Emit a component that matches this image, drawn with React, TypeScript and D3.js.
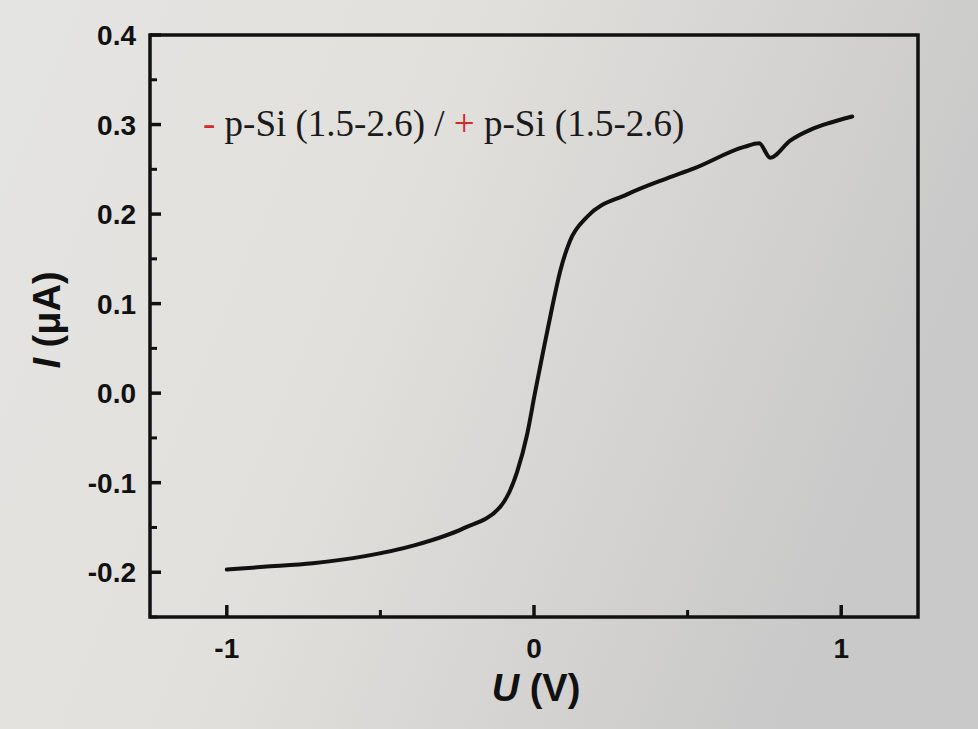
import React from "react";
import * as d3 from "d3";

const voltage = [-1.0, -0.88, -0.72, -0.55, -0.39, -0.23, -0.11, -0.055, -0.023, 0.003, 0.03, 0.058, 0.085, 0.117, 0.173, 0.303, 0.433, 0.521, 0.684, 0.733, 0.769, 0.834, 0.899, 0.964, 1.036];
const current = [-0.197, -0.194, -0.19, -0.182, -0.17, -0.151, -0.127, -0.088, -0.047, 0.0, 0.047, 0.094, 0.136, 0.17, 0.197, 0.222, 0.24, 0.251, 0.275, 0.279, 0.263, 0.282, 0.294, 0.302, 0.309];

const yMajorTicks = [-0.2, -0.1, 0.0, 0.1, 0.2, 0.3, 0.4];
const yMinorTicks = [-0.25, -0.15, -0.05, 0.05, 0.15, 0.25, 0.35];
const xMajorTicks = [-1, 0, 1];
const xMinorTicks = [-0.5, 0.5];

const W = 978;
const H = 729;
const M = { left: 150, right: 60, top: 35, bottom: 112 };

export default function App() {
  const x = d3.scaleLinear().domain([-1.25, 1.25]).range([M.left, W - M.right]);
  const y = d3.scaleLinear().domain([-0.25, 0.4]).range([H - M.bottom, M.top]);
  const pts = voltage.map((v, i) => [v, current[i]] as [number, number]);
  const line = d3
    .line<[number, number]>()
    .x((d) => x(d[0]))
    .y((d) => y(d[1]))
    .curve(d3.curveMonotoneX);

  const x0 = M.left;
  const x1 = W - M.right;
  const y0 = H - M.bottom;
  const y1 = M.top;
  const tickFont = "'Liberation Sans', Arial, sans-serif";

  return (
    <svg
      width={W}
      height={H}
      style={{ position: "absolute", left: 0, top: 0, display: "block" }}
    >
      <defs>
        <linearGradient id="bg" x1="0" y1="0" x2="1" y2="0.3">
          <stop offset="0" stopColor="#e4e4e2" />
          <stop offset="0.45" stopColor="#e2e0dc" />
          <stop offset="1" stopColor="#c9c9c9" />
        </linearGradient>
      </defs>
      <rect x={0} y={0} width={W} height={H} fill="url(#bg)" />

      {/* frame */}
      <rect
        x={x0}
        y={y1}
        width={x1 - x0}
        height={y0 - y1}
        fill="none"
        stroke="#111"
        strokeWidth={3.5}
      />

      {/* y ticks */}
      {yMajorTicks.map((t) => (
        <g key={"ym" + t}>
          <line x1={x0} x2={x0 + 11} y1={y(t)} y2={y(t)} stroke="#111" strokeWidth={3.5} />
          <text
            x={x0 - 14}
            y={y(t)}
            dy="0.36em"
            textAnchor="end"
            fontFamily={tickFont}
            fontWeight="bold"
            fontSize={28}
            fill="#111"
          >
            {t.toFixed(1)}
          </text>
        </g>
      ))}
      {yMinorTicks.map((t) => (
        <line key={"yn" + t} x1={x0} x2={x0 + 7} y1={y(t)} y2={y(t)} stroke="#111" strokeWidth={3} />
      ))}

      {/* x ticks */}
      {xMajorTicks.map((t) => (
        <g key={"xm" + t}>
          <line x1={x(t)} x2={x(t)} y1={y0} y2={y0 - 12} stroke="#111" strokeWidth={3.5} />
          <text
            x={x(t)}
            y={y0 + 41}
            textAnchor="middle"
            fontFamily={tickFont}
            fontWeight="bold"
            fontSize={28}
            fill="#111"
          >
            {t}
          </text>
        </g>
      ))}
      {xMinorTicks.map((t) => (
        <line key={"xn" + t} x1={x(t)} x2={x(t)} y1={y0} y2={y0 - 7} stroke="#111" strokeWidth={3} />
      ))}

      {/* axis titles */}
      <text
        x={(x0 + x1) / 2 + 2}
        y={H - 28}
        textAnchor="middle"
        fontFamily={tickFont}
        fontWeight="bold"
        fontSize={38}
        fill="#111"
      >
        <tspan fontStyle="italic">U</tspan> (V)
      </text>
      <text
        transform={`translate(60, 320) rotate(-90)`}
        textAnchor="middle"
        fontFamily={tickFont}
        fontWeight="bold"
        fontSize={38}
        fill="#111"
      >
        <tspan fontStyle="italic">I</tspan> (μA)
      </text>

      {/* annotation */}
      <text
        x={203}
        y={136}
        fontFamily="'Liberation Serif', 'Times New Roman', serif"
        fontSize={37}
        fill="#1a1a1a"
      >
        <tspan fill="#d42a2a">-</tspan> p-Si (1.5-2.6) / <tspan fill="#d42a2a">+</tspan> p-Si (1.5-2.6)
      </text>

      {/* curve */}
      <path
        d={line(pts) || ""}
        fill="none"
        stroke="#111"
        strokeWidth={4}
        strokeLinejoin="round"
        strokeLinecap="round"
      />
    </svg>
  );
}
